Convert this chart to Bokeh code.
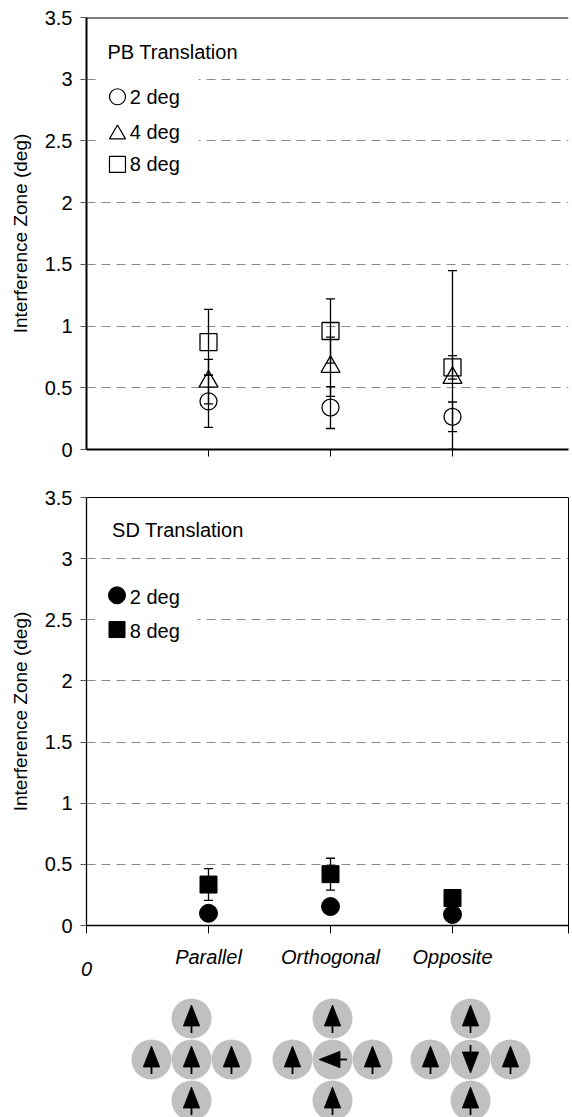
import numpy as np
from bokeh.plotting import figure
from bokeh.models import Range1d, FixedTicker, Whisker, ColumnDataSource, Span, TeeHead
from bokeh.layouts import column
from bokeh.core.properties import value
from bokeh.embed import file_html
from bokeh.resources import INLINE

# ---------------- data ----------------
categories = ["Parallel", "Orthogonal", "Opposite"]
cat_x = [1, 2, 3]

pb_2deg = [0.39, 0.34, 0.265]
pb_2deg_err = [0.21, 0.17, 0.12]
pb_4deg = [0.55, 0.67, 0.58]
pb_4deg_err = [0.18, 0.24, 0.87]
pb_8deg = [0.87, 0.96, 0.665]
pb_8deg_err = [0.265, 0.26, 0.095]

sd_2deg = [0.10, 0.155, 0.09]
sd_2deg_err = [0.02, 0.02, 0.02]
sd_8deg = [0.335, 0.42, 0.225]
sd_8deg_err = [0.13, 0.13, 0.03]

y_ticks = [0, 0.5, 1, 1.5, 2, 2.5, 3, 3.5]
y_tick_labels = ["0", "0.5", "1", "1.5", "2", "2.5", "3", "3.5"]
grid_ticks = [0.5, 1, 1.5, 2, 2.5, 3]

pb_legend_labels = ["2 deg", "4 deg", "8 deg"]
sd_legend_labels = ["2 deg", "8 deg"]

# icon illustration (directions of centre element)
icon_dirs = ["up", "left", "down"]

# ---------------- style ----------------
FONT = "Liberation Sans"
PX_PER_CAT = 122.0
TXT = "20px"


def panel(height, b_top, b_bottom, b_right, axis_w):
    frame_w = 572 - 86 - b_right
    p = figure(width=572, height=height,
               x_range=Range1d(0, frame_w / PX_PER_CAT), y_range=Range1d(0, 3.5),
               output_backend="svg", toolbar_location=None,
               min_border_left=86, min_border_right=b_right,
               min_border_top=b_top, min_border_bottom=b_bottom)
    p.background_fill_color = "white"
    p.border_fill_color = "white"
    p.xgrid.visible = False
    p.ygrid.ticker = FixedTicker(ticks=grid_ticks)
    p.ygrid.grid_line_color = "#8a8a8a"
    p.ygrid.grid_line_dash = "9 6"
    p.ygrid.grid_line_width = 1

    ya = p.yaxis[0]
    ya.ticker = FixedTicker(ticks=y_ticks)
    ya.major_label_overrides = {t: l for t, l in zip(y_ticks, y_tick_labels)}
    ya.major_label_text_font = FONT
    ya.major_label_text_font_size = TXT
    ya.major_label_text_color = "black"
    ya.major_tick_out = 6
    ya.major_tick_in = 0
    ya.minor_tick_out = 0
    ya.minor_tick_in = 0
    ya.major_tick_line_color = "#555555"
    ya.major_label_standoff = 8
    ya.axis_line_color = "black"
    ya.axis_line_width = axis_w
    ya.axis_label = "Interference Zone (deg)"
    ya.axis_label_text_font = FONT
    ya.axis_label_text_font_size = "19px"
    ya.axis_label_text_font_style = "normal"
    ya.axis_label_text_color = "black"
    ya.axis_label_standoff = 11

    xa = p.xaxis[0]
    xa.axis_line_color = "black"
    xa.axis_line_width = axis_w
    xa.major_tick_in = 0
    xa.minor_tick_out = 0
    xa.minor_tick_in = 0
    xa.major_tick_line_color = "black"
    return p


def whisker(p, xs, ys, errs, w=1.3):
    lower = np.maximum(np.array(ys) - np.array(errs), 0)
    upper = np.array(ys) + np.array(errs)
    src = ColumnDataSource(dict(x=xs, lower=lower, upper=upper))
    wk = Whisker(base="x", lower="lower", upper="upper", source=src, dimension="height",
                 line_color="black", line_width=w,
                 upper_head=TeeHead(size=9, line_color="black", line_width=w),
                 lower_head=TeeHead(size=9, line_color="black", line_width=w))
    p.add_layout(wk)


# ---------------- top panel (PB) ----------------
p1 = panel(470, 17, 21, 4, 2)
p1.outline_line_color = None
p1.xaxis[0].ticker = FixedTicker(ticks=cat_x)
p1.xaxis[0].major_label_overrides = {x: "" for x in cat_x}
p1.xaxis[0].major_tick_out = 7
p1.add_layout(Span(location=3.5, dimension="width", line_color="black", line_width=2))

# legend background / legend
p1.quad(left=[0.09], right=[0.92], bottom=[2.2], top=[3.1], fill_color="white", line_color=None)
p1.text(x=[0.172], y=[3.22], text=["PB Translation"], text_font=value(FONT), text_font_size=TXT,
        text_baseline="middle", text_align="left", text_color="black")
leg_y = [2.858, 2.574, 2.31]
for mk, yy, lab in zip(["circle", "triangle", "square"], leg_y, pb_legend_labels):
    p1.scatter([0.254], [yy - (0.02 if mk == "triangle" else 0)], marker=mk, size=16,
               fill_color=None, line_color="black", line_width=1.2)
    p1.text(x=[0.355], y=[yy], text=[lab], text_font=value(FONT), text_font_size=TXT,
            text_baseline="middle", text_align="left", text_color="black")

whisker(p1, cat_x, pb_8deg, pb_8deg_err)
whisker(p1, cat_x, pb_4deg, pb_4deg_err)
whisker(p1, cat_x, pb_2deg, pb_2deg_err)
p1.scatter(cat_x, pb_2deg, marker="circle", size=17, fill_color=None, line_color="black", line_width=1.3)
p1.scatter(cat_x, pb_4deg, marker="triangle", size=19, fill_color=None, line_color="black", line_width=1.3)
p1.scatter(cat_x, pb_8deg, marker="square", size=17, fill_color=None, line_color="black", line_width=1.3)

# ---------------- bottom panel (SD) ----------------
p2 = panel(520, 27, 65, 4, 1.3)
p2.outline_line_color = "black"
p2.outline_line_width = 1
x_end = p2.x_range.end
xt = [0] + cat_x + [x_end]
p2.xaxis[0].ticker = FixedTicker(ticks=xt)
ov = {0: "\n0"}
ov.update({x: c for x, c in zip(cat_x, categories)})
ov[x_end] = ""
p2.xaxis[0].major_label_overrides = ov
p2.xaxis[0].major_label_text_font = FONT
p2.xaxis[0].major_label_text_font_size = TXT
p2.xaxis[0].major_label_text_font_style = "italic"
p2.xaxis[0].major_label_text_line_height = 0.55
p2.xaxis[0].major_label_text_color = "black"
p2.xaxis[0].major_tick_out = 8
p2.xaxis[0].major_label_standoff = 12

p2.quad(left=[0.07], right=[0.91], bottom=[2.2], top=[2.88], fill_color="white", line_color=None)
p2.text(x=[0.21], y=[3.235], text=["SD Translation"], text_font=value(FONT), text_font_size=TXT,
        text_baseline="middle", text_align="left", text_color="black")
for mk, yy, lab in zip(["circle", "square"], [2.70, 2.42], sd_legend_labels):
    p2.scatter([0.25], [yy], marker=mk, size=17 if mk == "circle" else 16, fill_color="black", line_color="black")
    p2.text(x=[0.355], y=[yy - 0.01], text=[lab], text_font=value(FONT), text_font_size=TXT,
            text_baseline="middle", text_align="left", text_color="black")

whisker(p2, cat_x, sd_8deg, sd_8deg_err)
whisker(p2, cat_x, sd_2deg, sd_2deg_err)
p2.scatter(cat_x, sd_2deg, marker="circle", size=18, fill_color="black", line_color="black")
p2.scatter(cat_x, sd_8deg, marker="square", size=17, fill_color="black", line_color="black")

# ---------------- icons ----------------
p3 = figure(width=572, height=127, x_range=Range1d(86, 568), y_range=Range1d(127, 0),
            output_backend="svg", toolbar_location=None,
            min_border_left=86, min_border_right=4, min_border_top=0, min_border_bottom=0)
p3.axis.visible = False
p3.grid.visible = False
p3.outline_line_color = None

cluster_x = [191, 332, 470]
row_y = 69
step_x, step_y = 40, 41
dir_vec = {"up": (0, -1), "down": (0, 1), "left": (-1, 0), "right": (1, 0)}

cx_all, cy_all, dirs_all = [], [], []
for cx, cdir in zip(cluster_x, icon_dirs):
    for dx, dy, d in [(0, -step_y, "up"), (-step_x, 0, "up"), (0, 0, cdir), (step_x, 0, "up"), (0, step_y, "up")]:
        cx_all.append(cx + dx)
        cy_all.append(row_y + dy)
        dirs_all.append(d)

p3.scatter(cx_all, cy_all, marker="circle", size=40, fill_color="#c0c0c0", line_color=None)

xs_tri, ys_tri, sx0, sy0, sx1, sy1 = [], [], [], [], [], []
for cx, cy, d in zip(cx_all, cy_all, dirs_all):
    ux, uy = dir_vec[d]
    px_, py_ = -uy, ux
    apex = (cx + 13.5 * ux, cy + 13.5 * uy)
    bc = (cx - 7.5 * ux, cy - 7.5 * uy)
    b1 = (bc[0] + 8.2 * px_, bc[1] + 8.2 * py_)
    b2 = (bc[0] - 8.2 * px_, bc[1] - 8.2 * py_)
    xs_tri.append([apex[0], b1[0], b2[0]])
    ys_tri.append([apex[1], b1[1], b2[1]])
    sx0.append(bc[0]); sy0.append(bc[1])
    sx1.append(cx - 14.5 * ux); sy1.append(cy - 14.5 * uy)

p3.patches(xs_tri, ys_tri, fill_color="black", line_color="black", line_width=0.8)
p3.segment(sx0, sy0, sx1, sy1, line_color="black", line_width=1.8)

layout = column(p1, p2, p3, spacing=0)
open("out.html", "w").write(file_html(layout, INLINE))
